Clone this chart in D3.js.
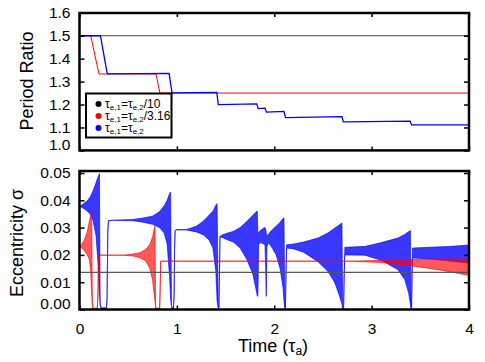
<!DOCTYPE html>
<html>
<head>
<meta charset="utf-8">
<script src="https://cdn.jsdelivr.net/npm/d3@7"></script>
<style>
  body { margin: 0; background: #fff; }
  text { font-family: "Liberation Sans", Arial, sans-serif; fill: #000; }
</style>
</head>
<body>
<div id="my_dataviz"></div>
<script>
// ---- data ----
var timeTicks = [0, 1, 2, 3, 4];
var ratioTicks = [1.0, 1.1, 1.2, 1.3, 1.4, 1.5, 1.6];
var eccTicks = [0.00, 0.01, 0.02, 0.03, 0.04, 0.05];

// period ratio, [time, ratio]
var ratioBlack = [[0, 1.5], [4, 1.5]];
var ratioRed = [[0, 1.5], [0.115, 1.5], [0.2, 1.3333], [0.785, 1.3333], [0.826, 1.25], [4, 1.25]];
var ratioBlue = [[0, 1.5], [0.215, 1.5], [0.285, 1.3333], [0.92, 1.336], [0.95, 1.251], [1.41, 1.253],
  [1.425, 1.2], [1.82, 1.203], [1.835, 1.182], [1.905, 1.184], [1.92, 1.167], [2.10, 1.17],
  [2.115, 1.143], [2.695, 1.147], [2.71, 1.124], [3.395, 1.128], [3.41, 1.111], [4, 1.111]];

// eccentricity envelopes, [time, low, high]
var eccBlack = [[0, 0.0136, 0.0136], [4, 0.0136, 0.0136]];
var eccRed = [
  [0.000, 0.0231, 0.0231], [0.02, 0.0226, 0.0238], [0.05, 0.0215, 0.0255], [0.08, 0.0200, 0.0285],
  [0.10, 0.0185, 0.0320], [0.115, 0.0140, 0.0345], [0.125, 0.0060, 0.0360], [0.132, 0.0010, 0.0020],
  [0.142, 0.0001, 0.0005], [0.183, 0.0001, 0.0005], [0.190, 0.006, 0.006], [0.195, 0.017, 0.017],
  [0.202, 0.0199, 0.0199],
  [0.45, 0.0199, 0.0199], [0.55, 0.0196, 0.0203], [0.62, 0.0190, 0.0208], [0.68, 0.0178, 0.0220],
  [0.72, 0.0152, 0.0237], [0.75, 0.0110, 0.0265], [0.765, 0.0060, 0.0290], [0.775, 0.0030, 0.0305],
  [0.782, 0.0005, 0.0010], [0.79, 0.0001, 0.0005], [0.823, 0.0001, 0.0005], [0.829, 0.008, 0.008],
  [0.834, 0.0177, 0.0177],
  [2.80, 0.0177, 0.0177], [3.10, 0.0172, 0.0180], [3.40, 0.0160, 0.0183], [3.70, 0.0145, 0.0185],
  [4.00, 0.0125, 0.0185]
];
var eccBlue = [
  [0.000, 0.0378, 0.0378], [0.02, 0.0375, 0.0382], [0.05, 0.0368, 0.0390], [0.08, 0.0360, 0.0398],
  [0.11, 0.0350, 0.0412], [0.14, 0.0325, 0.0435], [0.17, 0.0270, 0.0465], [0.19, 0.0170, 0.0485],
  [0.205, 0.0060, 0.0498], [0.212, 0.0015, 0.0020], [0.224, 0.0002, 0.0006], [0.276, 0.0002, 0.0006],
  [0.283, 0.004, 0.004], [0.287, 0.016, 0.016], [0.291, 0.029, 0.029], [0.298, 0.0325, 0.0325],
  [0.35, 0.0327, 0.0327], [0.55, 0.0325, 0.0330], [0.65, 0.0320, 0.0335], [0.75, 0.0312, 0.0342],
  [0.82, 0.0300, 0.0358], [0.87, 0.0280, 0.0380], [0.90, 0.0240, 0.0400], [0.925, 0.0120, 0.0425],
  [0.935, 0.0040, 0.0430], [0.945, 0.0010, 0.0015], [0.955, 0.0002, 0.0006], [0.965, 0.0002, 0.0006],
  [0.972, 0.006, 0.006], [0.976, 0.022, 0.022], [0.982, 0.0288, 0.0288], [0.99, 0.0292, 0.0292],
  [1.10, 0.0291, 0.0293], [1.20, 0.0284, 0.0305], [1.27, 0.0274, 0.0323], [1.33, 0.0255, 0.0345],
  [1.37, 0.0225, 0.0360], [1.40, 0.0140, 0.0382], [1.413, 0.0030, 0.0388], [1.425, 0.0005, 0.0010],
  [1.432, 0.0003, 0.0008], [1.437, 0.012, 0.012], [1.443, 0.0268, 0.0268],
  [1.46, 0.0265, 0.0272], [1.52, 0.0255, 0.0280], [1.58, 0.0247, 0.0286], [1.65, 0.0225, 0.0300],
  [1.72, 0.0182, 0.0323], [1.78, 0.0130, 0.0345], [1.815, 0.0070, 0.0358], [1.826, 0.0050, 0.0360],
  [1.832, 0.0048, 0.0280], [1.840, 0.0240, 0.0282], [1.86, 0.0245, 0.0290], [1.89, 0.0240, 0.0298],
  [1.905, 0.0237, 0.0300], [1.912, 0.0150, 0.0295], [1.918, 0.0048, 0.0280], [1.925, 0.0230, 0.0270],
  [1.94, 0.0245, 0.0275], [1.96, 0.0235, 0.0285], [1.98, 0.0225, 0.0292], [2.02, 0.0200, 0.0305],
  [2.06, 0.0150, 0.0320], [2.09, 0.0080, 0.0333], [2.100, 0.0030, 0.0335], [2.108, 0.0005, 0.0010],
  [2.115, 0.0003, 0.0008], [2.120, 0.012, 0.012], [2.127, 0.0225, 0.0237],
  [2.20, 0.0222, 0.0240], [2.30, 0.0210, 0.0247], [2.45, 0.0175, 0.0262], [2.55, 0.0140, 0.0280],
  [2.62, 0.0100, 0.0298], [2.67, 0.0050, 0.0310], [2.695, 0.0020, 0.0317], [2.703, 0.0003, 0.0008],
  [2.712, 0.0003, 0.0008], [2.718, 0.012, 0.012], [2.725, 0.0200, 0.0228],
  [2.93, 0.0199, 0.0231], [3.10, 0.0180, 0.0245], [3.27, 0.0146, 0.0262], [3.34, 0.0110, 0.0275],
  [3.38, 0.0060, 0.0285], [3.398, 0.0020, 0.0289], [3.405, 0.0003, 0.0008], [3.410, 0.0003, 0.0008],
  [3.415, 0.012, 0.012], [3.42, 0.0189, 0.0225],
  [3.60, 0.0185, 0.0228], [3.80, 0.0178, 0.0231], [4.00, 0.0170, 0.0236]
];

var legendItems = [
  {color: "black", sub2: "/10"},
  {color: "red", sub2: "/3.16"},
  {color: "blue", sub2: ""}
];

// ---- layout ----
var W = 485, H = 362;
var left = 79.5, right = 469;
var top1 = 13, bot1 = 150.4;
var top2 = 171, bot2 = 309.5;

var svg = d3.select("#my_dataviz")
  .append("svg")
    .attr("width", W)
    .attr("height", H);

var x = d3.scaleLinear().domain([0, 4]).range([left, right]);
var yTop = d3.scaleLinear().domain([1.0, 1.6]).range([bot1, 12.8]);
var yBot = d3.scaleLinear().domain([0, 0.05]).range([bot2, 173]);

// clip paths
var defs = svg.append("defs");
defs.append("clipPath").attr("id", "clipTop").append("rect")
  .attr("x", left).attr("y", top1).attr("width", right - left).attr("height", bot1 - top1);
defs.append("clipPath").attr("id", "clipBot").append("rect")
  .attr("x", left).attr("y", top2 - 1).attr("width", right - left).attr("height", bot2 - top2 + 1);

// ---- top panel: period ratio ----
var line1 = d3.line().x(function(d) { return x(d[0]); }).y(function(d) { return yTop(d[1]); });
var gTop = svg.append("g").attr("clip-path", "url(#clipTop)");
gTop.append("path").datum(ratioBlack).attr("d", line1)
  .attr("fill", "none").attr("stroke", "#444").attr("stroke-width", 1);
gTop.append("path").datum(ratioRed).attr("d", line1)
  .attr("fill", "none").attr("stroke", "#ff0000").attr("stroke-width", 1);
gTop.append("path").datum(ratioBlue).attr("d", line1)
  .attr("fill", "none").attr("stroke", "#0000ff").attr("stroke-width", 1.3);

// ---- bottom panel: eccentricity ----
var band = d3.area()
  .x(function(d) { return x(d[0]); })
  .y0(function(d) { return yBot(d[1]); })
  .y1(function(d) { return yBot(d[2]); });
var gBot = svg.append("g").attr("clip-path", "url(#clipBot)");
gBot.append("path").datum(eccBlue).attr("d", band)
  .attr("fill", "#0000ff").attr("fill-opacity", 0.78)
  .attr("stroke", "#0000ff").attr("stroke-width", 0.7).attr("stroke-opacity", 0.9)
  .attr("stroke-linejoin", "round");
gBot.append("path").datum(eccRed).attr("d", band)
  .attr("fill", "#ff0000").attr("fill-opacity", 0.65)
  .attr("stroke", "#ff0000").attr("stroke-width", 0.7).attr("stroke-opacity", 0.9)
  .attr("stroke-linejoin", "round");
gBot.append("path").datum(eccBlack).attr("d", band)
  .attr("fill", "none").attr("stroke", "#555").attr("stroke-width", 1);

// ---- axes ----
function drawAxes(y, top, bot, yTicks, fmt, showX) {
  // y left with labels
  var ay = svg.append("g").attr("transform", "translate(" + left + ",0)")
    .call(d3.axisLeft(y).tickValues(yTicks).tickSize(-5).tickPadding(9).tickFormat(fmt));
  ay.selectAll("text").style("font-size", "15.5px").style("font-family", "Liberation Sans, Arial, sans-serif");
  ay.selectAll("text").filter(function(d, i) { return i === 0; }).attr("dy", "-0.05em");
  ay.select(".domain").remove();
  ay.selectAll("line").attr("stroke-width", 1.5);
  // y right ticks
  var ayr = svg.append("g").attr("transform", "translate(" + right + ",0)")
    .call(d3.axisRight(y).tickValues(yTicks).tickSize(-5).tickFormat(""));
  ayr.select(".domain").remove();
  ayr.selectAll("line").attr("stroke-width", 1.5);
  // x top ticks
  var axt = svg.append("g").attr("transform", "translate(0," + top + ")")
    .call(d3.axisTop(x).tickValues(timeTicks).tickSize(-4).tickFormat(""));
  axt.select(".domain").remove();
  axt.selectAll("line").attr("stroke-width", 1.5);
  // x bottom ticks
  var axb = svg.append("g").attr("transform", "translate(0," + bot + ")")
    .call(d3.axisBottom(x).tickValues(timeTicks).tickSize(-4).tickPadding(13)
      .tickFormat(showX ? d3.format("d") : ""));
  axb.select(".domain").remove();
  axb.selectAll("line").attr("stroke-width", 1.5);
  axb.selectAll("text").style("font-size", "15.5px").style("font-family", "Liberation Sans, Arial, sans-serif");
  // frame
  svg.append("rect")
    .attr("x", left).attr("y", top)
    .attr("width", right - left).attr("height", bot - top)
    .attr("fill", "none").attr("stroke", "black").attr("stroke-width", 2.5);
}
drawAxes(yTop, top1, bot1, ratioTicks, d3.format(".1f"), false);
drawAxes(yBot, top2, bot2, eccTicks, d3.format(".2f"), true);

// ---- axis titles ----
svg.append("text")
  .attr("text-anchor", "middle")
  .attr("transform", "translate(33,81) rotate(-90)")
  .style("font-size", "18px")
  .text("Period Ratio");

svg.append("text")
  .attr("text-anchor", "middle")
  .attr("transform", "translate(23,243) rotate(-90)")
  .style("font-size", "18px")
  .text("Eccentricity σ");

var xt = svg.append("text")
  .attr("text-anchor", "middle")
  .attr("x", 273).attr("y", 352)
  .style("font-size", "18px");
xt.append("tspan").text("Time (τ");
xt.append("tspan").attr("baseline-shift", "-25%").style("font-size", "12px").text("a");
xt.append("tspan").text(")");

// ---- legend ----
var lg = svg.append("g");
lg.append("rect")
  .attr("x", 86).attr("y", 93.5).attr("width", 85.5).attr("height", 44)
  .attr("fill", "white").attr("stroke", "black").attr("stroke-width", 2);
legendItems.forEach(function(d, i) {
  var cy = 104 + i * 12;
  lg.append("circle").attr("cx", 98.5).attr("cy", cy).attr("r", 3).style("fill", d.color);
  var t = lg.append("text").attr("x", 105).attr("y", cy + 4).style("font-size", "12px");
  t.append("tspan").text("τ");
  t.append("tspan").attr("baseline-shift", "-20%").style("font-size", "8px").text("e,1");
  t.append("tspan").text("=τ");
  t.append("tspan").attr("baseline-shift", "-20%").style("font-size", "8px").text("e,2");
  t.append("tspan").text(d.sub2);
});
</script>
</body>
</html>
